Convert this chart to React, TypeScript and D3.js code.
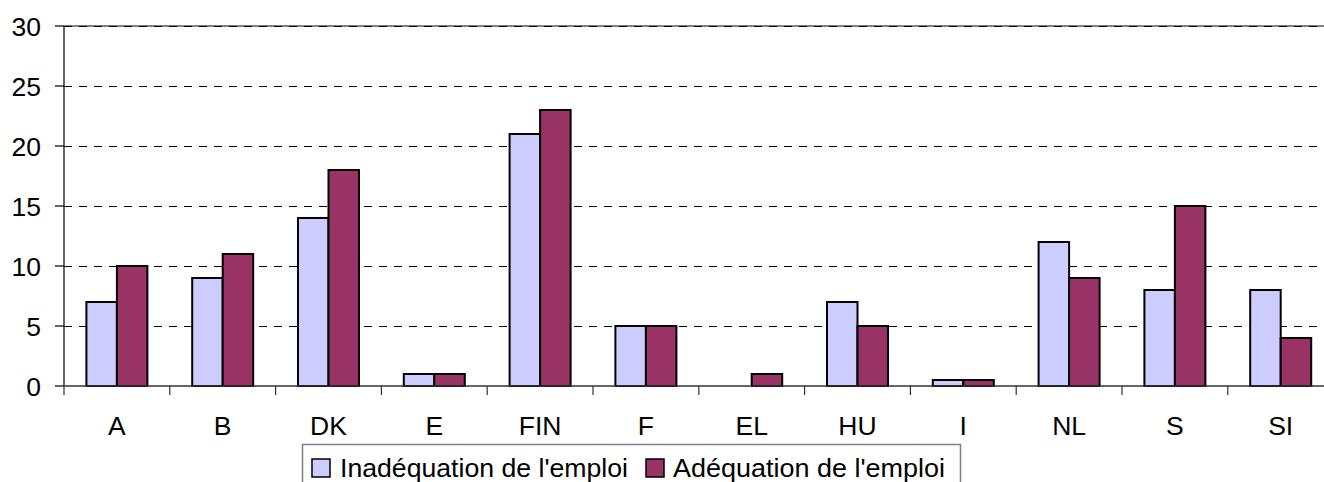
import React from "react";
import * as d3 from "d3";

const categories = ["A", "B", "DK", "E", "FIN", "F", "EL", "HU", "I", "NL", "S", "SI"];
const seriesNames = ["Inadéquation de l'emploi", "Adéquation de l'emploi"];
const inadequation = [7, 9, 14, 1, 21, 5, 0, 7, 0.5, 12, 8, 8];
const adequation = [10, 11, 18, 1, 23, 5, 1, 5, 0.5, 9, 15, 4];
const yTicks = [0, 5, 10, 15, 20, 25, 30];
const colors = ["#CCCCFF", "#993366"];

const W = 1324;
const H = 482;
const left = 64;
const right = 1333.6;
const top = 26;
const bottom = 386;
const font = "'Liberation Sans', Arial, Helvetica, sans-serif";

export default function App() {
  const x0 = d3.scaleBand<string>().domain(categories).range([left, right]).padding(0);
  const bw = x0.bandwidth();
  const groupW = 61;
  const x1 = d3
    .scaleBand<string>()
    .domain(seriesNames)
    .range([(bw - groupW) / 2, (bw + groupW) / 2])
    .padding(0);
  const y = d3.scaleLinear().domain([0, 30]).range([bottom, top]);
  const seriesValues = [inadequation, adequation];

  return (
    <svg
      width={W}
      height={H}
      style={{ position: "absolute", left: 0, top: 0, display: "block", background: "#fff" }}
      fontFamily={font}
    >
      {/* plot top border */}
      <line x1={left} x2={W} y1={y(30)} y2={y(30)} stroke="#808080" strokeWidth={2} />
      {/* gridlines */}
      {yTicks
        .filter((t) => t > 0)
        .map((t) => (
          <line
            key={"g" + t}
            x1={left}
            x2={W}
            y1={y(t)}
            y2={y(t)}
            stroke="#000"
            strokeWidth={1}
            strokeDasharray="8,7"
            shapeRendering="crispEdges"
          />
        ))}
      {/* bars */}
      {categories.map((c, i) => (
        <g key={c} transform={`translate(${x0(c)},0)`}>
          {seriesNames.map((s, k) => {
            const v = seriesValues[k][i];
            if (v <= 0) return null;
            return (
              <rect
                key={s}
                x={x1(s)}
                width={x1.bandwidth()}
                y={y(v)}
                height={y(0) - y(v)}
                fill={colors[k]}
                stroke="#000"
                strokeWidth={2}
              />
            );
          })}
        </g>
      ))}
      {/* y axis */}
      <line x1={left} x2={left} y1={y(30)} y2={y(0)} stroke="#000" strokeWidth={1.2} />
      {yTicks.map((t) => (
        <g key={"y" + t}>
          <line x1={left - 9} x2={left} y1={y(t)} y2={y(t)} stroke="#000" strokeWidth={1.2} />
          <text
            x={41}
            y={y(t)}
            dy="0.36em"
            textAnchor="end"
            fontSize={26.5}
            fill="#000"
          >
            {t}
          </text>
        </g>
      ))}
      {/* x axis */}
      <line x1={left} x2={W} y1={y(0)} y2={y(0)} stroke="#333" strokeWidth={1.5} />
      {categories.map((c) => (
        <line
          key={"xt" + c}
          x1={x0(c)!}
          x2={x0(c)!}
          y1={y(0)}
          y2={y(0) + 9}
          stroke="#333"
          strokeWidth={1.2}
        />
      ))}
      {categories.map((c) => (
        <text
          key={"xl" + c}
          x={x0(c)! + bw / 2}
          y={435}
          textAnchor="middle"
          fontSize={26.5}
          fill="#000"
        >
          {c}
        </text>
      ))}
      {/* legend */}
      <rect x={302.5} y={444.5} width={658} height={50} fill="#fff" stroke="#808080" strokeWidth={1.5} />
      {seriesNames.map((s, k) => {
        const sx = k === 0 ? 312 : 646;
        const tx = k === 0 ? 340 : 673;
        return (
          <g key={"lg" + s}>
            <rect x={sx} y={459} width={18} height={18} fill={colors[k]} stroke="#000" strokeWidth={1.5} />
            <text x={tx} y={477} fontSize={25.5} fill="#000" textLength={k === 0 ? 288 : 272} lengthAdjust="spacingAndGlyphs">
              {s}
            </text>
          </g>
        );
      })}
    </svg>
  );
}
